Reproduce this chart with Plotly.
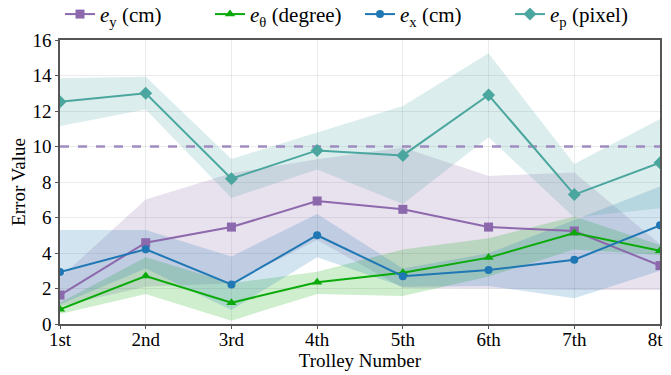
import plotly.graph_objects as go

trolleys = ["1st", "2nd", "3rd", "4th", "5th", "6th", "7th", "8th"]
y_ticks = [0, 2, 4, 6, 8, 10, 12, 14, 16]
threshold = 10

e_y = [1.63, 4.58, 5.46, 6.93, 6.46, 5.46, 5.24, 3.29]
e_y_hi = [2.6, 7.02, 8.5, 9.28, 9.95, 8.34, 8.54, 4.5]
e_y_lo = [1.0, 2.1, 2.3, 4.73, 2.03, 2.0, 1.92, 1.92]

e_t = [0.83, 2.7, 1.2, 2.35, 2.89, 3.74, 5.13, 4.13]
e_t_hi = [1.2, 3.76, 2.3, 2.95, 4.2, 4.83, 6.05, 4.45]
e_t_lo = [0.56, 1.69, 0.19, 1.69, 1.58, 2.67, 4.2, 3.89]

e_x = [2.93, 4.21, 2.23, 5.0, 2.69, 3.04, 3.62, 5.56]
e_x_hi = [5.3, 5.3, 3.8, 6.2, 3.13, 3.98, 5.86, 7.74]
e_x_lo = [1.1, 3.13, 0.79, 3.76, 2.1, 2.14, 1.45, 3.0]

e_p = [12.52, 13.0, 8.19, 9.78, 9.5, 12.9, 7.29, 9.09]
e_p_hi = [13.84, 13.93, 9.3, 10.8, 12.28, 15.25, 9.01, 11.55]
e_p_lo = [11.15, 12.09, 7.1, 8.71, 6.76, 10.52, 6.0, 6.52]

series = [
    ("<i>e</i><sub>y</sub> (cm)", e_y, e_y_hi, e_y_lo, "#8c68ac", "140,104,172", "square", 9),
    ("<i>e</i><sub>θ</sub> (degree)", e_t, e_t_hi, e_t_lo, "#0aaa0a", "10,170,10", "triangle-up", 9),
    ("<i>e</i><sub>x</sub> (cm)", e_x, e_x_hi, e_x_lo, "#1f77b4", "31,119,180", "circle", 8),
    ("<i>e</i><sub>p</sub> (pixel)", e_p, e_p_hi, e_p_lo, "#4aa69e", "74,166,158", "diamond", 10),
]

FONT = "Liberation Serif, Times New Roman, serif"
xs = list(range(len(trolleys)))
fig = go.Figure()

for name, v, hi, lo, col, rgb, sym, ms in series:
    fig.add_trace(go.Scatter(
        x=xs + xs[::-1], y=hi + lo[::-1], fill="toself",
        fillcolor=f"rgba({rgb},0.2)", line=dict(width=0), mode="lines",
        showlegend=False, hoverinfo="skip"))

fig.add_trace(go.Scatter(
    x=[xs[0], xs[-1]], y=[threshold, threshold], mode="lines",
    line=dict(color="#a08cc0", width=2.5, dash="dash"), showlegend=False))

for name, v, hi, lo, col, rgb, sym, ms in series:
    fig.add_trace(go.Scatter(
        x=xs, y=v, mode="lines+markers", name=name,
        line=dict(color=col, width=2),
        marker=dict(symbol=sym, size=ms, color=col)))

axis_common = dict(
    showline=True, linecolor="#555555", linewidth=1.5, mirror=True,
    showgrid=True, gridcolor="rgba(0,0,0,0.08)", gridwidth=1,
    ticks="outside", ticklen=3, tickcolor="#555555", zeroline=False,
    tickfont=dict(family=FONT, size=19, color="black"),
)

fig.update_layout(
    width=671, height=375,
    margin=dict(l=52, r=19, t=32, b=59, autoexpand=False),
    plot_bgcolor="white", paper_bgcolor="white",
    font=dict(family=FONT, size=19, color="black"),
    legend=dict(orientation="h", x=0.0, xanchor="left", y=1.09, yanchor="middle",
                font=dict(family=FONT, size=21), bgcolor="rgba(0,0,0,0)",
                itemwidth=30, entrywidth=105, entrywidthmode="pixels"),
    xaxis=dict(range=[0, 7], tickvals=xs, ticktext=trolleys, ticklabelstandoff=-6,
               title=dict(text="Trolley Number", standoff=2,
                          font=dict(family=FONT, size=19)),
               **axis_common),
    yaxis=dict(range=[0, 16], tickvals=y_ticks,
               title=dict(text="Error Value", standoff=4,
                          font=dict(family=FONT, size=19)),
               **axis_common),
)

fig.write_html("out.html")
